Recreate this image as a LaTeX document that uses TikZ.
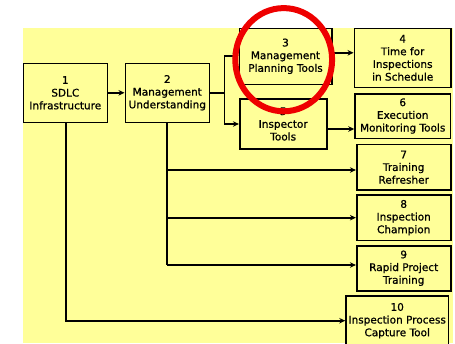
\documentclass[tikz,border=0pt]{standalone}
\usepackage{fontspec}
\setmainfont{DejaVu Sans}
\newfontfamily\boxfont{DejaVu Sans}[FakeBold=0.8]
\usetikzlibrary{arrows.meta}
\definecolor{padyellow}{RGB}{255,255,153}
\definecolor{markred}{RGB}{238,0,0}
\begin{document}
\begin{tikzpicture}[x=1pt,y=-1pt,
  stepbox/.style={draw=black,line width=1.6pt,fill=padyellow,align=center,
    inner sep=0pt,font=\boxfont\fontsize{10.5}{12.7}\selectfont},
  link/.style={draw=black,line width=1.8pt},
  arr/.style={link,-{Stealth[length=6pt,width=5.5pt]}}]
\useasboundingbox (0,0) rectangle (455,343);
% page background
\fill[padyellow] (23,28) rectangle (453,343);

% boxes
\node[stepbox,minimum width=84pt,minimum height=59pt] (n1) at (65.3,92.8) {1\\SDLC\\Infrastructure};
\node[stepbox,minimum width=84pt,minimum height=59pt] (n2) at (167.3,92.8) {2\\Management\\Understanding};
\node[stepbox,minimum width=92.4pt,minimum height=56pt] (n3) at (285.5,56.3) {3\\Management\\Planning Tools};
\node[stepbox,minimum width=96.7pt,minimum height=59pt] (n4) at (402.7,57.8) {4\\Time for\\Inspections\\in Schedule};
\node[stepbox,minimum width=87pt,minimum height=50pt] (n5) at (283.2,124) {5\\Inspector\\Tools};
\node[stepbox,minimum width=95.3pt,minimum height=44.6pt] (n6) at (402.7,116) {6\\Execution\\Monitoring Tools};
\node[stepbox,minimum width=94pt,minimum height=45.7pt] (n7) at (403.7,167.2) {7\\Training\\Refresher};
\node[stepbox,minimum width=94pt,minimum height=45.3pt] (n8) at (403.7,217.7) {8\\Inspection\\Champion};
\node[stepbox,minimum width=94pt,minimum height=45pt] (n9) at (403.7,268.2) {9\\Rapid Project\\Training};
\node[stepbox,minimum width=102.3pt,minimum height=50pt] (n10) at (397.2,320.7) {10\\Inspection Process\\Capture Tool};

% junction points of the connectors
\coordinate (j2) at (224.5,92.8);
\coordinate (t2) at (166.7,0);
\coordinate (t1) at (65.7,0);

% connectors
\draw[arr] (n1) -- (n2);
\draw[link] (n2.east) -- (j2);
\draw[arr] (j2) |- ([yshift=0.7pt]n3.west);
\draw[arr] (j2) |- (n5.west);
\draw[arr] ([yshift=3.5pt]n3.east) -- ([yshift=3.5pt]n3.east -| n4.west);
\draw[arr] ([yshift=-5pt]n5.east) -- ([yshift=-5pt]n5.east -| n6.west);
\draw[link] (t2 |- n2.south) -- (t2 |- 0,265);
\draw[arr] (t2 |- 0,170) -- (n7.west |- 0,170);
\draw[arr] (t2 |- 0,217.7) -- (n8.west |- 0,217.7);
\draw[arr] (t2 |- 0,265) -- (n9.west |- 0,265);
\draw[arr] (t1 |- n1.south) |- (n10.west);

% highlight ring
\draw[markred,line width=6pt] (283.7,59.7) ellipse [x radius=48.4pt,y radius=51.6pt];
\end{tikzpicture}
\end{document}
